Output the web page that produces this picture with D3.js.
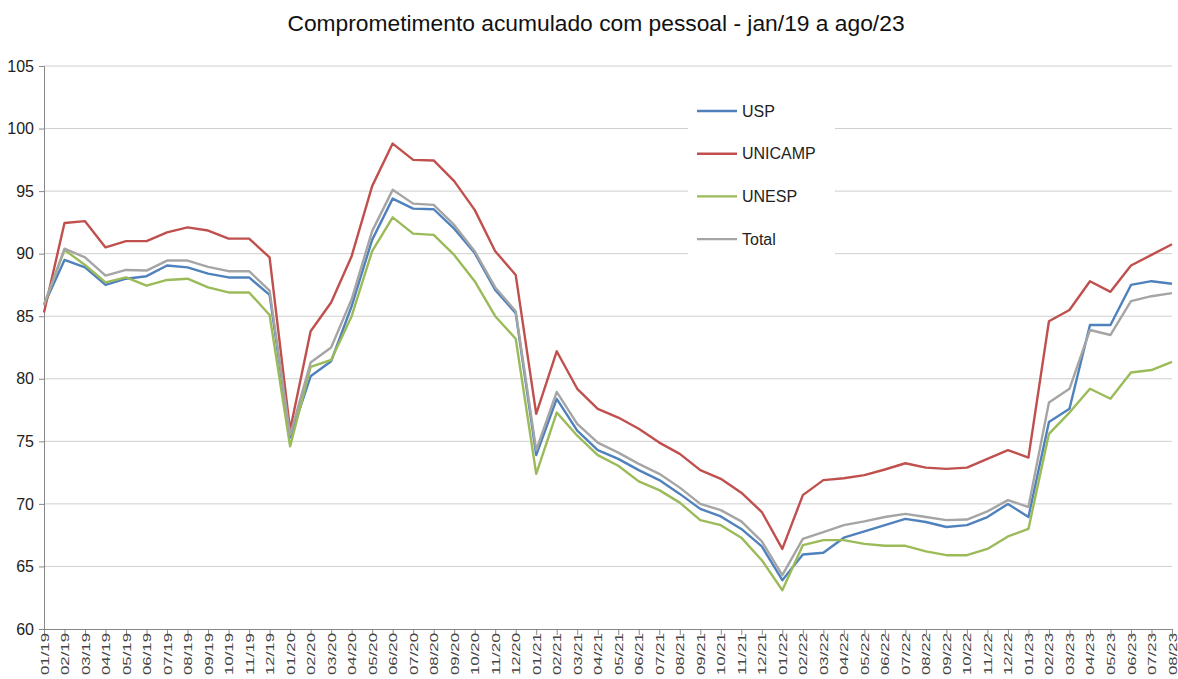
<!DOCTYPE html>
<html>
<head>
<meta charset="utf-8">
<script src="https://cdn.jsdelivr.net/npm/d3@7"></script>
<style>
	body { margin: 0; background: #fff; }
	svg { display: block; font-family: 'Liberation Sans', Arial, sans-serif; }
</style>
</head>
<body>
<div class="chart"></div>
<script>
	// 월별 카테고리 01/19 ~ 08/23
	const months = [
		'01/19', '02/19', '03/19', '04/19', '05/19', '06/19', '07/19', '08/19', '09/19', '10/19', '11/19', '12/19',
		'01/20', '02/20', '03/20', '04/20', '05/20', '06/20', '07/20', '08/20', '09/20', '10/20', '11/20', '12/20',
		'01/21', '02/21', '03/21', '04/21', '05/21', '06/21', '07/21', '08/21', '09/21', '10/21', '11/21', '12/21',
		'01/22', '02/22', '03/22', '04/22', '05/22', '06/22', '07/22', '08/22', '09/22', '10/22', '11/22', '12/22',
		'01/23', '02/23', '03/23', '04/23', '05/23', '06/23', '07/23', '08/23',
	];

	const usp = [
		85.9, 89.5, 88.9, 87.5, 88.0, 88.2, 89.05, 88.9, 88.4, 88.1, 88.1, 86.7,
		75.3, 80.2, 81.4, 85.8, 91.1, 94.4, 93.6, 93.55, 92.0, 90.05, 87.1, 85.25,
		73.9, 78.4, 75.85, 74.3, 73.6, 72.7, 71.9, 70.8, 69.6, 69.0, 68.0, 66.6,
		63.9, 65.95, 66.1, 67.3, 67.8, 68.3, 68.8, 68.55, 68.15, 68.3, 68.95, 70.0,
		68.95, 76.55, 77.6, 84.3, 84.3, 87.5, 87.8, 87.6,
	];
	const unicamp = [
		85.3, 92.45, 92.6, 90.5, 91.0, 91.0, 91.7, 92.1, 91.85, 91.2, 91.2, 89.7,
		75.9, 83.8, 86.1, 89.8, 95.4, 98.8, 97.5, 97.45, 95.8, 93.5, 90.2, 88.3,
		77.2, 82.2, 79.2, 77.6, 76.9, 76.0, 74.9, 74.0, 72.7, 72.0, 70.9, 69.35,
		66.4, 70.7, 71.9, 72.05, 72.3, 72.75, 73.25, 72.9, 72.8, 72.9, 73.6, 74.3,
		73.7, 84.6, 85.5, 87.8, 86.95, 89.05, 89.9, 90.75,
	];
	const unesp = [
		85.9, 90.3, 89.1, 87.7, 88.1, 87.45, 87.9, 88.0, 87.3, 86.9, 86.9, 85.1,
		74.6, 80.95, 81.5, 85.0, 90.2, 92.9, 91.6, 91.5, 89.9, 87.8, 85.0, 83.2,
		72.4, 77.3, 75.45, 73.9, 73.05, 71.8, 71.1, 70.1, 68.7, 68.3, 67.3, 65.5,
		63.1, 66.7, 67.1, 67.1, 66.8, 66.65, 66.65, 66.2, 65.9, 65.9, 66.4, 67.4,
		68.0, 75.6, 77.3, 79.2, 78.4, 80.5, 80.7, 81.35,
	];
	const total = [
		85.9, 90.4, 89.7, 88.25, 88.7, 88.65, 89.45, 89.45, 88.95, 88.6, 88.6, 87.05,
		75.5, 81.3, 82.5, 86.35, 91.8, 95.1, 94.0, 93.9, 92.3, 90.2, 87.3, 85.4,
		74.3, 78.95, 76.4, 74.9, 74.1, 73.2, 72.4, 71.3, 70.0, 69.5, 68.6, 67.0,
		64.3, 67.2, 67.75, 68.3, 68.6, 68.95, 69.2, 68.95, 68.7, 68.75, 69.4, 70.3,
		69.75, 78.1, 79.2, 83.9, 83.5, 86.2, 86.6, 86.85,
	];

	const yTicks = [60, 65, 70, 75, 80, 85, 90, 95, 100, 105];

	const series = [
		{ name: 'USP', values: usp, color: '#4f81bd' },
		{ name: 'UNICAMP', values: unicamp, color: '#c0504d' },
		{ name: 'UNESP', values: unesp, color: '#9bbb59' },
		{ name: 'Total', values: total, color: '#a5a5a5' },
	];

	const width = 1178;
	const height = 679;
	const margin = { top: 66, right: 6, bottom: 50, left: 44 };

	const svg = d3.select('.chart').append('svg').attr('width', width).attr('height', height);

	const x = d3
		.scalePoint()
		.domain(months)
		.range([margin.left, width - margin.right]);

	const y = d3
		.scaleLinear()
		.domain([60, 105])
		.range([height - margin.bottom, margin.top]);

	// 제목
	svg
		.append('text')
		.attr('x', 596)
		.attr('y', 31)
		.attr('text-anchor', 'middle')
		.style('font-size', '22.8px')
		.style('fill', '#111')
		.text('Comprometimento acumulado com pessoal - jan/19 a ago/23');

	// 그리드
	svg
		.append('g')
		.selectAll('line')
		.data(yTicks.slice(1))
		.enter()
		.append('line')
		.attr('x1', margin.left)
		.attr('x2', width - margin.right)
		.attr('y1', d => y(d))
		.attr('y2', d => y(d))
		.attr('stroke', '#cfcfcf')
		.attr('stroke-width', 1);

	// y축
	const yAxis = svg
		.append('g')
		.attr('transform', `translate(${margin.left},0)`)
		.call(d3.axisLeft(y).tickValues(yTicks).tickSize(5).tickPadding(5));
	yAxis.select('.domain').attr('stroke', '#888');
	yAxis.selectAll('.tick line').attr('stroke', '#888');
	yAxis.selectAll('.tick text').style('font-size', '16px').style('fill', '#222').style('font-family', "'Liberation Sans', Arial, sans-serif");

	// x축 (라벨은 세로로 길쭉하게)
	const xAxis = svg
		.append('g')
		.attr('transform', `translate(0,${height - margin.bottom})`)
		.call(d3.axisBottom(x).tickSize(6).tickSizeOuter(0));
	xAxis.select('.domain').attr('stroke', '#888');
	xAxis.selectAll('.tick line').attr('stroke', '#888');
	xAxis
		.selectAll('.tick text')
		.attr('transform', 'rotate(-90)')
		.attr('text-anchor', 'end')
		.attr('x', -4)
		.attr('y', 0)
		.attr('dy', '0.35em')
		.attr('textLength', 42)
		.attr('lengthAdjust', 'spacingAndGlyphs')
		.style('font-size', '11.5px')
		.style('fill', '#444')
		.style('font-family', "'Liberation Sans', Arial, sans-serif");

	// 선
	const line = d3
		.line()
		.x((d, i) => x(months[i]))
		.y(d => y(d));

	svg
		.append('g')
		.selectAll('path')
		.data(series)
		.enter()
		.append('path')
		.attr('d', d => line(d.values))
		.attr('fill', 'none')
		.attr('stroke', d => d.color)
		.attr('stroke-width', 2.4)
		.attr('stroke-linejoin', 'round');

	// 범례
	const legend = svg.append('g');
	legend.append('rect').attr('x', 688).attr('y', 94).attr('width', 147).attr('height', 166).attr('fill', '#fff');

	const items = legend
		.selectAll('.item')
		.data(series)
		.enter()
		.append('g')
		.attr('class', 'item')
		.attr('transform', (d, i) => `translate(697,${111 + i * 42.7})`);

	items
		.append('line')
		.attr('x1', 0)
		.attr('x2', 40)
		.attr('stroke', d => d.color)
		.attr('stroke-width', 2.4);

	items
		.append('text')
		.attr('x', 45)
		.attr('dy', '0.35em')
		.style('font-size', '16px')
		.style('fill', '#222')
		.text(d => d.name);
</script>
</body>
</html>
